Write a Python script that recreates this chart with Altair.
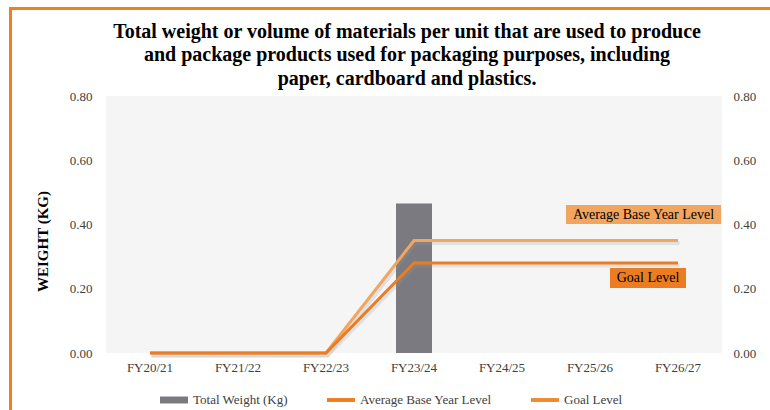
import altair as alt
import pandas as pd

# ---- data -------------------------------------------------------------
categories = ["FY20/21", "FY21/22", "FY22/23", "FY23/24", "FY24/25", "FY25/26", "FY26/27"]
total_weight = [None, None, None, 0.465, None, None, None]
avg_base_level = [0.0, 0.0, 0.0, 0.35, 0.35, 0.35, 0.35]
goal_level = [0.0, 0.0, 0.0, 0.28, 0.28, 0.28, 0.28]
series_names = ["Total Weight (Kg)", "Average Base Year Level", "Goal Level"]
y_ticks = [0.0, 0.2, 0.4, 0.6, 0.8]
title_lines = [
    "Total weight or volume of materials per unit that are used to produce",
    "and package products used for packaging purposes, including",
    "paper, cardboard and plastics.",
]

FONT = "Liberation Serif"
GREY = "#7b7a80"
ORANGE = "#EC7C22"
LIGHT_ORANGE = "#F2A55E"
FRAME = "#F07F1E"
LABEL = "#404040"

bars_df = pd.DataFrame({"fy": categories, "value": total_weight,
                        "series": series_names[0]}).dropna()
avg_df = pd.DataFrame({"fy": categories, "value": avg_base_level})
goal_df = pd.DataFrame({"fy": categories, "value": goal_level})
avg_tag = pd.DataFrame({"fy": [categories[-1]], "value": [avg_base_level[-1]],
                        "label": [series_names[1]]})
goal_tag = pd.DataFrame({"fy": [categories[-1]], "value": [goal_level[-1]],
                         "label": [series_names[2]]})

x_enc = alt.X(
    "fy:N",
    sort=categories,
    scale=alt.Scale(domain=categories, paddingInner=0, paddingOuter=0),
    axis=alt.Axis(title=None, ticks=False, domain=False, labelAngle=0,
                  labelFont=FONT, labelFontSize=13, labelColor=LABEL,
                  labelPadding=8),
)
y_scale = alt.Scale(domain=[0, 0.8], nice=False)

left_axis = alt.Axis(values=y_ticks, format=".2f", ticks=False, domain=False,
                     grid=False, labelFont=FONT, labelFontSize=13,
                     labelColor=LABEL, labelPadding=14,
                     title="WEIGHT (KG)", titleFont=FONT, titleFontSize=15,
                     titleFontWeight="bold", titleColor="black",
                     titleAngle=270, titleBaseline="middle",
                     titleX=-64, titleY=145)
right_axis = alt.Axis(orient="right", values=y_ticks, format=".2f",
                      ticks=False, domain=False, grid=False, labelFont=FONT,
                      labelFontSize=13, labelColor=LABEL, labelPadding=11,
                      title=None)

# legend keys: a thicker swatch for the bar series, thin strokes for lines
bar_key = "M-1,-0.25H1V0.25H-1Z"
line_key = "M-1,-0.14H1V0.14H-1Z"
key_shape = ("datum.value === '%s' ? '%s' : '%s'"
             % (series_names[0], bar_key, line_key))

# ---- bar + legend -------------------------------------------------------
bars = alt.Chart(bars_df).mark_bar(width=36).encode(
    x=x_enc,
    y=alt.Y("value:Q", scale=y_scale, axis=left_axis),
    color=alt.Color(
        "series:N",
        scale=alt.Scale(domain=series_names,
                        range=[GREY, "#EE7D22", "#F08A30"]),
        legend=alt.Legend(orient="none", legendX=54, legendY=290,
                          direction="horizontal", columns=3, title=None,
                          symbolType=alt.ExprRef(expr=key_shape),
                          symbolSize=784,
                          symbolStrokeWidth=0, labelFont=FONT,
                          labelFontSize=13, labelColor=LABEL,
                          labelOffset=5, columnPadding=39),
    ),
)

# ---- level lines with soft shadows ---------------------------------------
def level_line(df, color, **kw):
    return alt.Chart(df).mark_line(color=color, **kw).encode(
        x=x_enc, y=alt.Y("value:Q", scale=y_scale, axis=right_axis))

shadows = [level_line(d, "#9a9a9a", strokeWidth=4, opacity=0.22,
                      xOffset=1.5, yOffset=2.5) for d in (avg_df, goal_df)]
avg_line = level_line(avg_df, LIGHT_ORANGE, strokeWidth=3)
goal_line = level_line(goal_df, ORANGE, strokeWidth=3)

# ---- label boxes at the last year ----------------------------------------
def tag(df, fill, shape, size, dx, dy):
    box = alt.Chart(df).mark_point(shape=shape, size=size, filled=True,
                                   opacity=1, color=fill, strokeWidth=0,
                                   xOffset=dx, yOffset=dy).encode(
        x=x_enc, y=alt.Y("value:Q", scale=y_scale, axis=right_axis))
    txt = alt.Chart(df).mark_text(font=FONT, fontSize=14, color="black",
                                  align="center", baseline="middle",
                                  dx=dx, dy=dy).encode(
        x=x_enc, y=alt.Y("value:Q", scale=y_scale, axis=right_axis),
        text="label:N")
    return [box, txt]

avg_tag_layers = tag(avg_tag, LIGHT_ORANGE, "M-1,-0.1226H1V0.1226H-1Z",
                     155 ** 2, -34.5, -26)
goal_tag_layers = tag(goal_tag, ORANGE, "M-1,-0.263H1V0.263H-1Z",
                      76 ** 2, -30, 15)

right = alt.layer(*shadows, avg_line, goal_line, *avg_tag_layers,
                  *goal_tag_layers)

# ---- page frame ----------------------------------------------------------
frame_top = alt.Chart(bars_df).mark_rule(color=FRAME, strokeWidth=3).encode(
    x=alt.value(-97), x2=alt.value(664), y=alt.value(-87.5))
frame_left = alt.Chart(bars_df).mark_rule(color=FRAME, strokeWidth=3).encode(
    x=alt.value(-95.5), y=alt.value(-89), y2=alt.value(314))

chart = alt.layer(bars, right, frame_top, frame_left).resolve_scale(
    y="independent"
).properties(
    width=616,
    height=257,
    padding={"left": 106, "top": 96, "right": 48, "bottom": 57},
    autosize=alt.AutoSizeParams(type="none"),
    background="white",
    title=alt.TitleParams(text=title_lines, font=FONT, fontSize=20,
                          fontWeight="bold", color="black", anchor="middle",
                          frame="group", offset=14, dx=-7, dy=97,
                          lineHeight=23.5),
).configure_view(fill="#f5f5f5", strokeWidth=0)

chart.save("out.html", embed_options={"renderer": "svg", "actions": False})
